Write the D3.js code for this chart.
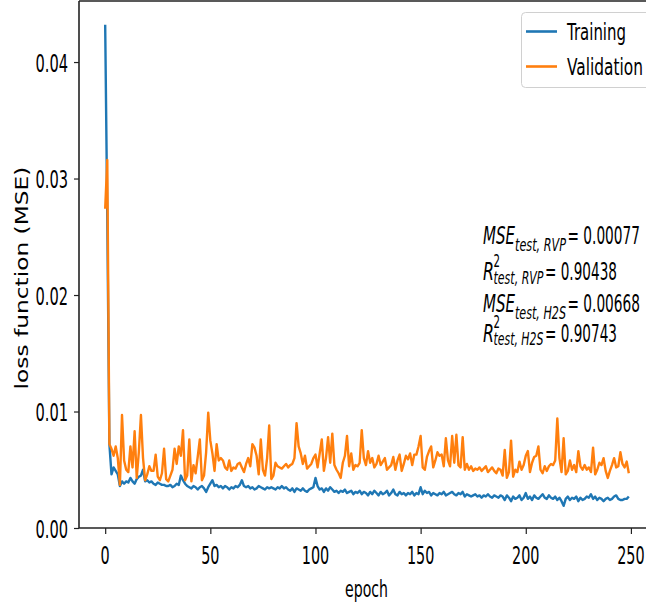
<!DOCTYPE html>
<html>
<head>
<meta charset="utf-8">
<script src="https://cdn.jsdelivr.net/npm/d3@7"></script>
<style>
  html, body { margin: 0; padding: 0; background: #fff; }
  svg { display: block; }
  text { font-family: "DejaVu Sans", sans-serif; fill: #000; }
</style>
</head>
<body>
<svg id="chart" width="646" height="602"></svg>
<script>
// Per-epoch loss values (MSE) for 250 epochs of training
const trainingLoss = [
  0.0432, 0.0267, 0.0072, 0.0046, 0.0052, 0.0049, 0.0046, 0.0036, 0.0040, 0.0038,
  0.0040, 0.0039, 0.0043, 0.0040, 0.0038, 0.0042, 0.0044, 0.0045, 0.0050, 0.0040,
  0.0041, 0.0039, 0.0040, 0.0038, 0.0037, 0.0039, 0.0038, 0.0037, 0.0037, 0.0036,
  0.0036, 0.0037, 0.0035, 0.0036, 0.0038, 0.0037, 0.0045, 0.0041, 0.0038, 0.0036,
  0.0035, 0.0034, 0.0036, 0.0035, 0.0033, 0.0035, 0.0036, 0.0034, 0.0031, 0.0035,
  0.0038, 0.0041, 0.0036, 0.0037, 0.0035, 0.0036, 0.0034, 0.0036, 0.0035, 0.0033,
  0.0035, 0.0034, 0.0036, 0.0035, 0.0037, 0.0041, 0.0036, 0.0035, 0.0036, 0.0034,
  0.0035, 0.0033, 0.0034, 0.0036, 0.0035, 0.0034, 0.0033, 0.0035, 0.0034, 0.0035,
  0.0034, 0.0033, 0.0035, 0.0034, 0.0036, 0.0034, 0.0035, 0.0033, 0.0032, 0.0034,
  0.0031, 0.0034, 0.0033, 0.0032, 0.0034, 0.0032, 0.0031, 0.0033, 0.0034, 0.0035,
  0.0043, 0.0036, 0.0033, 0.0034, 0.0031, 0.0034, 0.0032, 0.0035, 0.0033, 0.0031,
  0.0032, 0.0030, 0.0032, 0.0031, 0.0033, 0.0030, 0.0031, 0.0032, 0.0029, 0.0031,
  0.0030, 0.0032, 0.0029, 0.0031, 0.0030, 0.0028, 0.0031, 0.0029, 0.0032, 0.0030,
  0.0028, 0.0031, 0.0029, 0.0030, 0.0032, 0.0028, 0.0030, 0.0033, 0.0029, 0.0028,
  0.0031, 0.0029, 0.0030, 0.0028, 0.0030, 0.0029, 0.0031, 0.0028, 0.0030, 0.0029,
  0.0035, 0.0029, 0.0032, 0.0030, 0.0031, 0.0028, 0.0030, 0.0029, 0.0028, 0.0030,
  0.0029, 0.0031, 0.0028, 0.0029, 0.0030, 0.0031, 0.0029, 0.0028, 0.0030, 0.0029,
  0.0031, 0.0027, 0.0029, 0.0028, 0.0027, 0.0028, 0.0029, 0.0027, 0.0028, 0.0026,
  0.0028, 0.0027, 0.0029, 0.0027, 0.0026, 0.0028, 0.0027, 0.0026, 0.0028, 0.0027,
  0.0024, 0.0028, 0.0026, 0.0023, 0.0027, 0.0025, 0.0026, 0.0028, 0.0024, 0.0026,
  0.0030, 0.0025, 0.0027, 0.0024, 0.0028, 0.0026, 0.0025, 0.0027, 0.0029, 0.0026,
  0.0025, 0.0028, 0.0026, 0.0025, 0.0027, 0.0024, 0.0026, 0.0023, 0.0019, 0.0025,
  0.0027, 0.0024, 0.0026, 0.0025, 0.0027, 0.0023, 0.0026, 0.0024, 0.0025, 0.0027,
  0.0026, 0.0029, 0.0025, 0.0027, 0.0024, 0.0026, 0.0025, 0.0023, 0.0025, 0.0026,
  0.0024, 0.0025, 0.0027, 0.0028, 0.0025, 0.0024, 0.0024, 0.0025, 0.0025, 0.0027
];

const validationLoss = [
  0.0274, 0.0316, 0.0072, 0.0068, 0.0062, 0.0070, 0.0060, 0.0037, 0.0097, 0.0058,
  0.0050, 0.0048, 0.0070, 0.0052, 0.0083, 0.0043, 0.0065, 0.0097, 0.0060, 0.0041,
  0.0046, 0.0053, 0.0049, 0.0049, 0.0063, 0.0044, 0.0041, 0.0047, 0.0068, 0.0042,
  0.0040, 0.0045, 0.0050, 0.0068, 0.0055, 0.0070, 0.0062, 0.0084, 0.0041, 0.0045,
  0.0076, 0.0040, 0.0054, 0.0047, 0.0061, 0.0076, 0.0041, 0.0045, 0.0065, 0.0099,
  0.0075, 0.0064, 0.0049, 0.0072, 0.0058, 0.0060, 0.0058, 0.0052, 0.0050, 0.0058,
  0.0049, 0.0052, 0.0051, 0.0055, 0.0056, 0.0052, 0.0048, 0.0055, 0.0060, 0.0053,
  0.0072, 0.0069, 0.0062, 0.0046, 0.0076, 0.0050, 0.0045, 0.0060, 0.0088, 0.0042,
  0.0045, 0.0056, 0.0053, 0.0052, 0.0051, 0.0053, 0.0055, 0.0052, 0.0054, 0.0055,
  0.0060, 0.0090, 0.0070, 0.0064, 0.0055, 0.0062, 0.0051, 0.0053, 0.0055, 0.0060,
  0.0063, 0.0052, 0.0064, 0.0076, 0.0049, 0.0060, 0.0078, 0.0056, 0.0081, 0.0054,
  0.0050, 0.0047, 0.0043, 0.0056, 0.0062, 0.0079, 0.0053, 0.0064, 0.0050, 0.0054,
  0.0053, 0.0056, 0.0084, 0.0060, 0.0054, 0.0066, 0.0056, 0.0060, 0.0052, 0.0055,
  0.0062, 0.0054, 0.0057, 0.0060, 0.0050, 0.0052, 0.0054, 0.0061, 0.0050, 0.0058,
  0.0063, 0.0049, 0.0055, 0.0062, 0.0059, 0.0064, 0.0054, 0.0063, 0.0063, 0.0070,
  0.0079, 0.0052, 0.0050, 0.0061, 0.0066, 0.0070, 0.0052, 0.0058, 0.0065, 0.0062,
  0.0063, 0.0053, 0.0077, 0.0058, 0.0053, 0.0079, 0.0056, 0.0080, 0.0054, 0.0052,
  0.0078, 0.0050, 0.0055, 0.0050, 0.0053, 0.0049, 0.0051, 0.0050, 0.0052, 0.0049,
  0.0051, 0.0053, 0.0048, 0.0050, 0.0052, 0.0049, 0.0047, 0.0051, 0.0050, 0.0045,
  0.0067, 0.0043, 0.0048, 0.0075, 0.0044, 0.0050, 0.0048, 0.0057, 0.0050, 0.0054,
  0.0062, 0.0066, 0.0048, 0.0056, 0.0061, 0.0062, 0.0070, 0.0050, 0.0047, 0.0053,
  0.0049, 0.0053, 0.0055, 0.0054, 0.0058, 0.0094, 0.0060, 0.0048, 0.0077, 0.0046,
  0.0049, 0.0058, 0.0050, 0.0054, 0.0048, 0.0066, 0.0053, 0.0050, 0.0054, 0.0050,
  0.0052, 0.0048, 0.0069, 0.0046, 0.0050, 0.0056, 0.0054, 0.0060, 0.0049, 0.0043,
  0.0049, 0.0054, 0.0060, 0.0052, 0.0053, 0.0065, 0.0055, 0.0052, 0.0057, 0.0047
];

const seriesNames = ["Training", "Validation"];
const seriesColors = ["#1f77b4", "#ff7f0e"];
const xTicks = [0, 50, 100, 150, 200, 250];
const yTicks = [0.00, 0.01, 0.02, 0.03, 0.04];

// Test-set metrics shown beside the curves
const metricRows = [
  { sym: "MSE", sup: null, sub: "test, RVP", value: "= 0.00077" },
  { sym: "R",   sup: "2",  sub: "test, RVP", value: "= 0.90438" },
  { sym: "MSE", sup: null, sub: "test, H2S", value: "= 0.00668" },
  { sym: "R",   sup: "2",  sub: "test, H2S", value: "= 0.90743" }
];

const svg = d3.select("#chart");

const x = d3.scaleLinear().domain([-12.45, 261.45]).range([79, 655]);
const y = d3.scaleLinear().domain([0, 0.04524]).range([528, 1]);

// Text helper: places a label, squeezing it horizontally to a target width or factor
function putText(parent, o) {
  const t = parent.append("text")
    .attr("font-size", o.size)
    .attr("font-style", o.italic ? "italic" : "normal")
    .attr("text-anchor", o.anchor || "start")
    .text(o.text);
  let sx = o.sx || 1;
  if (o.width) sx = o.width / t.node().getComputedTextLength();
  t.attr("transform", `translate(${o.x},${o.y}) rotate(${o.rotate || 0}) scale(${sx},1)`);
  return t;
}

// Curves
const line = d3.line().x((d, i) => x(i)).y(d => y(d));
const plot = svg.append("g");
[trainingLoss, validationLoss].forEach((vals, k) => {
  plot.append("path")
    .datum(vals)
    .attr("d", line)
    .attr("fill", "none")
    .attr("stroke", seriesColors[k])
    .attr("stroke-width", 2.4)
    .attr("stroke-linejoin", "round");
});

// Axes (ticks only; labels are drawn separately)
const yAxis = svg.append("g").attr("transform", "translate(79,0)")
  .call(d3.axisLeft(y).tickValues(yTicks).tickSize(5).tickFormat(""));
const xAxis = svg.append("g").attr("transform", "translate(0,528)")
  .call(d3.axisBottom(x).tickValues(xTicks).tickSize(6).tickFormat(""));
[yAxis, xAxis].forEach(g => {
  g.select(".domain").remove();
  g.selectAll(".tick line").attr("stroke", "#222").attr("stroke-width", 1.2);
});

// Spines
const spines = svg.append("g").attr("stroke", "#222").attr("stroke-width", 1.6).attr("fill", "none");
spines.append("line").attr("x1", 79).attr("x2", 79).attr("y1", y.range()[1]).attr("y2", y.range()[0]);
spines.append("line").attr("x1", 79).attr("x2", 655).attr("y1", y.range()[0]).attr("y2", y.range()[0]);
spines.append("line").attr("x1", 79).attr("x2", 655).attr("y1", y.range()[1]).attr("y2", y.range()[1]);
spines.append("line").attr("x1", 655).attr("x2", 655).attr("y1", y.range()[1]).attr("y2", y.range()[0]);

// Tick labels
const fmt = d3.format(".2f");
yTicks.forEach(v => putText(svg, { x: 68, y: y(v) + 9.5, text: fmt(v), size: 24, sx: 0.61, anchor: "end" }));
xTicks.forEach(v => putText(svg, { x: x(v), y: 564, text: String(v), size: 24, sx: 0.6, anchor: "middle" }));

// Axis titles
putText(svg, { x: 366.5, y: 597, text: "epoch", size: 22.5, width: 43, anchor: "middle" });
putText(svg, { x: 28, y: 278, text: "loss function (MSE)", size: 17, width: 223, anchor: "middle", rotate: -90 });

// Legend
const legend = svg.append("g");
legend.append("rect")
  .attr("x", 521.5).attr("y", 12.5).attr("width", 150).attr("height", 75).attr("rx", 4)
  .attr("fill", "#fff").attr("fill-opacity", 0.8).attr("stroke", "#d0d0d0").attr("stroke-width", 1);
const legendY = [31.5, 66.5];
const legendW = [59, 76];
seriesNames.forEach((name, k) => {
  legend.append("line")
    .attr("x1", 526).attr("x2", 557).attr("y1", legendY[k]).attr("y2", legendY[k])
    .attr("stroke", seriesColors[k]).attr("stroke-width", 2.6);
  putText(legend, { x: 567, y: legendY[k] + 8, text: name, size: 22.5, width: legendW[k] });
});

// Metrics annotation
const rowBase = [244, 280, 311.7, 341.7];
const ann = svg.append("g");
metricRows.forEach((r, i) => {
  const b = rowBase[i];
  if (r.sup === null) {
    putText(ann, { x: 483, y: b, text: r.sym, size: 24.5, italic: true, width: 32 });
    putText(ann, { x: 515, y: b + 7, text: r.sub, size: 17, italic: true, width: 51 });
    putText(ann, { x: 567.5, y: b, text: r.value, size: 24.5, width: 72.5 });
  } else {
    putText(ann, { x: 483, y: b, text: r.sym, size: 24.5, italic: true, width: 11 });
    putText(ann, { x: 493.5, y: b - 13.5, text: r.sup, size: 17, width: 6.5 });
    putText(ann, { x: 493.5, y: b + 3.5, text: r.sub, size: 17, italic: true, width: 50 });
    putText(ann, { x: 545, y: b, text: r.value, size: 24.5, width: 72 });
  }
});
</script>
</body>
</html>
